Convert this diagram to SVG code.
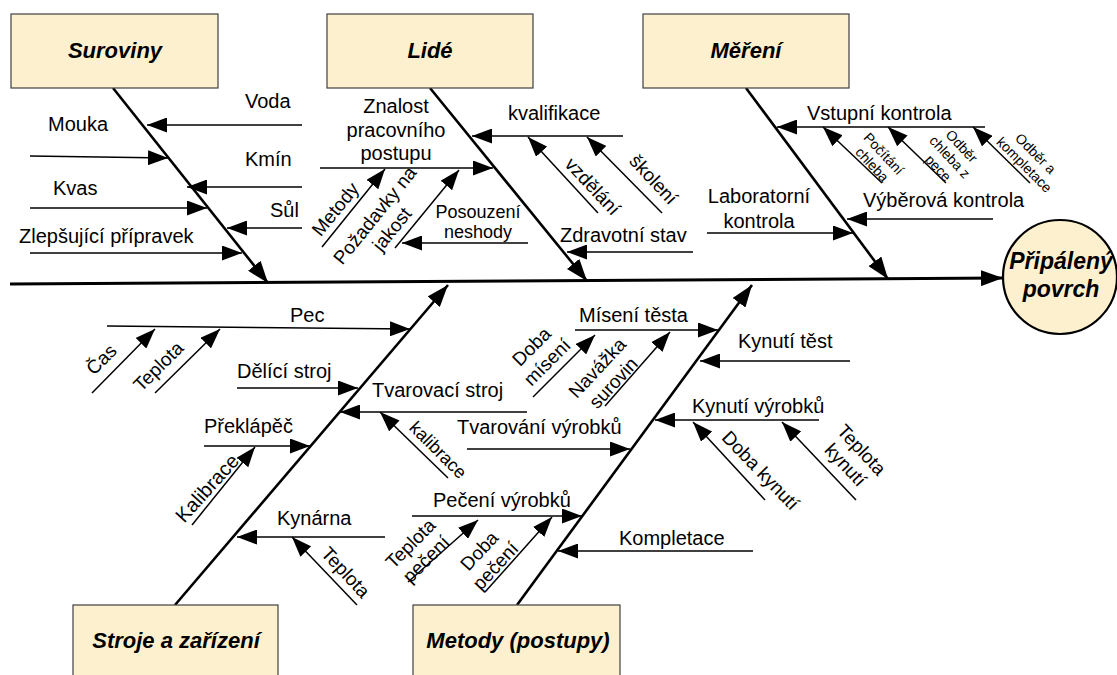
<svg xmlns="http://www.w3.org/2000/svg" width="1117" height="675" viewBox="0 0 1117 675">
<defs>
<style>
text{font-family:"Liberation Sans",Arial,sans-serif;fill:#000}
.t{font-size:22px;font-weight:bold;font-style:italic;text-anchor:middle}
.l{font-size:20px}
.c{text-anchor:middle}
.s{font-size:19px;text-anchor:middle}
.m{font-size:18px;text-anchor:middle}
.x{font-size:14px;text-anchor:middle}
.box{fill:#FDF0CF;stroke:#404040;stroke-width:1.2}
.bone{stroke:#000;stroke-width:2.6;fill:none;marker-end:url(#ab)}
.br{stroke:#000;stroke-width:1.5;fill:none;marker-end:url(#ah)}
</style>
<marker id="ah" viewBox="0 0 20 15" refX="20" refY="7.5" markerWidth="20" markerHeight="15" markerUnits="userSpaceOnUse" orient="auto"><path d="M0,0 L20,7.5 L0,15 z" fill="#000"/></marker>
<marker id="ab" viewBox="0 0 22 16" refX="22" refY="8" markerWidth="22" markerHeight="16" markerUnits="userSpaceOnUse" orient="auto"><path d="M0,0 L22,8 L0,16 z" fill="#000"/></marker>
</defs>
<rect width="1117" height="675" fill="#fff"/>

<g id="connectors">
<path d="M10,284 L1003,278" stroke="#000" stroke-width="3" fill="none" marker-end="url(#ab)"/>
<path class="bone" d="M113,88 L268,283"/>
<path class="bone" d="M430,88 L587,281"/>
<path class="bone" d="M746,88 L888,279"/>
<path class="bone" d="M175,605 L448,285"/>
<path class="bone" d="M517,605 L752,285"/>
<!-- Suroviny -->
<path class="br" d="M302,125 L147,125"/>
<path class="br" d="M30,156 L168,158"/>
<path class="br" d="M302,187 L187,187"/>
<path class="br" d="M30,208 L207,208"/>
<path class="br" d="M302,228 L227,228"/>
<path class="br" d="M30,253 L242,253"/>
<!-- Lidé -->
<path class="br" d="M320,168 L493,168"/>
<path class="br" d="M322,247 L385,169"/>
<path class="br" d="M395,248 L459,170"/>
<path class="br" d="M528,243 L402,243"/>
<path class="br" d="M623,136 L472,136"/>
<path class="br" d="M598,213 L528,137"/>
<path class="br" d="M662,213 L587,137"/>
<path class="br" d="M693,252 L567,252"/>
<!-- Měření -->
<path class="br" d="M985,127 L777,127"/>
<path class="br" d="M882,183 L823,127"/>
<path class="br" d="M946,183 L888,127"/>
<path class="br" d="M1030,183 L973,127"/>
<path class="br" d="M993,219 L847,219"/>
<path class="br" d="M707,233 L853,233"/>
<!-- Stroje -->
<path class="br" d="M107,326 L410,329"/>
<path class="br" d="M92,393 L155,329"/>
<path class="br" d="M155,393 L220,329"/>
<path class="br" d="M237,388 L358,388"/>
<path class="br" d="M527,412 L340,412"/>
<path class="br" d="M448,478 L380,412"/>
<path class="br" d="M204,446 L310,446"/>
<path class="br" d="M192,525 L255,447"/>
<path class="br" d="M385,537 L237,537"/>
<path class="br" d="M357,605 L292,537"/>
<!-- Metody -->
<path class="br" d="M575,330 L718,330"/>
<path class="br" d="M533,397 L595,335"/>
<path class="br" d="M605,406 L670,332"/>
<path class="br" d="M850,361 L700,361"/>
<path class="br" d="M467,449 L630,449"/>
<path class="br" d="M819,420 L655,420"/>
<path class="br" d="M765,500 L693,422"/>
<path class="br" d="M856,500 L782,422"/>
<path class="br" d="M412,516 L582,516"/>
<path class="br" d="M408,582 L478,520"/>
<path class="br" d="M485,592 L552,517"/>
<path class="br" d="M753,551 L558,551"/>
</g>

<g id="node-suroviny"><rect class="box" x="11" y="14" width="207" height="74"/><text class="t" x="115" y="58">Suroviny</text></g>
<g id="node-lide"><rect class="box" x="327" y="14" width="206" height="74"/><text class="t" x="430" y="58">Lidé</text></g>
<g id="node-mereni"><rect class="box" x="643" y="14" width="206" height="74"/><text class="t" x="746" y="58">Měření</text></g>
<g id="node-stroje"><rect class="box" x="73" y="605" width="205" height="80"/><text class="t" x="176" y="648">Stroje a zařízení</text></g>
<g id="node-metody"><rect class="box" x="413" y="605" width="207" height="80"/><text class="t" x="518" y="648">Metody (postupy)</text></g>
<g id="node-effect"><circle cx="1060" cy="277" r="57" fill="#FDF0CF" stroke="#000" stroke-width="2.2"/><text class="t" x="1061" y="269" style="font-size:23px">Připálený</text><text class="t" x="1061" y="297" style="font-size:23px">povrch</text></g>

<g id="labels">
<text class="l" x="245" y="108">Voda</text>
<text class="l" x="48" y="131">Mouka</text>
<text class="l" x="245" y="166">Kmín</text>
<text class="l" x="53" y="195">Kvas</text>
<text class="l" x="270" y="217">Sůl</text>
<text class="l" x="19" y="243">Zlepšující přípravek</text>

<text class="l c" x="396" y="113">Znalost</text>
<text class="l c" x="396" y="137">pracovního</text>
<text class="l c" x="396" y="160">postupu</text>
<text class="s" transform="translate(335,209) rotate(-51)" y="7">Metody</text>
<text class="s" transform="translate(383,222) rotate(-51)"><tspan x="0" y="-4">Požadavky na</tspan><tspan x="0" y="18">jakost</tspan></text>
<text class="m" x="478" y="218">Posouzení</text>
<text class="m" x="478" y="238">neshody</text>
<text class="l" x="508" y="120">kvalifikace</text>
<text class="s" transform="translate(593,186) rotate(47)" y="7">vzdělání</text>
<text class="s" transform="translate(654,179) rotate(47)" y="7">školení</text>
<text class="l" x="560" y="242">Zdravotní stav</text>

<text class="l" x="807" y="120">Vstupní kontrola</text>
<text class="x" transform="translate(878,159) rotate(47)"><tspan x="0" y="-3">Počítání</tspan><tspan x="0" y="13">chleba</tspan></text>
<text class="x" transform="translate(950,157) rotate(47)"><tspan x="0" y="-11">Odběr</tspan><tspan x="0" y="5">chleba z</tspan><tspan x="0" y="21">pece</tspan></text>
<text class="x" transform="translate(1030,159) rotate(45)"><tspan x="0" y="-3">Odběr a</tspan><tspan x="0" y="13">kompletace</tspan></text>
<text class="l" x="863" y="207">Výběrová kontrola</text>
<text class="l c" x="759" y="203">Laboratorní</text>
<text class="l c" x="759" y="228">kontrola</text>

<text class="l" x="290" y="322">Pec</text>
<text class="s" transform="translate(101,359) rotate(-45)" y="7">Čas</text>
<text class="s" transform="translate(158,366) rotate(-45)" y="7">Teplota</text>
<text class="l" x="237" y="378">Dělící stroj</text>
<text class="l" x="372" y="397">Tvarovací stroj</text>
<text class="m" transform="translate(438,450) rotate(45)" y="6">kalibrace</text>
<text class="l" x="204" y="433">Překlápěč</text>
<text class="l c" transform="translate(207,488) rotate(-48)" y="7">Kalibrace</text>
<text class="l" x="277" y="525">Kynárna</text>
<text class="s" transform="translate(346,572) rotate(47)" y="7">Teplota</text>

<text class="l" x="579" y="322">Mísení těsta</text>
<text class="s" transform="translate(539,354) rotate(-45)"><tspan x="0" y="-4">Doba</tspan><tspan x="0" y="18">mísení</tspan></text>
<text class="s" transform="translate(605,375) rotate(-47)"><tspan x="0" y="-4">Navážka</tspan><tspan x="0" y="18">surovin</tspan></text>
<text class="l" x="738" y="348">Kynutí těst</text>
<text class="l" x="457" y="434">Tvarování výrobků</text>
<text class="l" x="692" y="413">Kynutí výrobků</text>
<text class="s" transform="translate(761,470) rotate(46)" y="7">Doba kynutí</text>
<text class="s" transform="translate(854,457) rotate(47)"><tspan x="0" y="-4">Teplota</tspan><tspan x="0" y="18">kynutí</tspan></text>
<text class="l" x="433" y="507">Pečení výrobků</text>
<text class="s" transform="translate(418,551) rotate(-45)"><tspan x="0" y="-4">Teplota</tspan><tspan x="0" y="18">pečení</tspan></text>
<text class="s" transform="translate(487,558) rotate(-47)"><tspan x="0" y="-4">Doba</tspan><tspan x="0" y="18">pečení</tspan></text>
<text class="l" x="619" y="545">Kompletace</text>
</g>
</svg>
